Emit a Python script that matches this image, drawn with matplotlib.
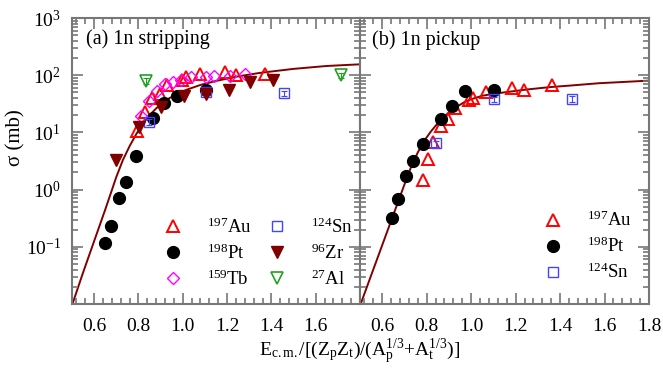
import matplotlib
matplotlib.use("Agg")
import matplotlib.pyplot as plt
from matplotlib.ticker import FixedLocator, FixedFormatter, MultipleLocator, LogLocator, NullFormatter

plt.rcParams['font.family'] = ['Liberation Serif', 'DejaVu Serif']
plt.rcParams['mathtext.fontset'] = 'custom'
plt.rcParams['mathtext.rm'] = 'Liberation Serif'
plt.rcParams['mathtext.it'] = 'Liberation Serif:italic'
plt.rcParams['mathtext.bf'] = 'Liberation Serif:bold'

# ---------------- data: (a) 1n stripping ----------------
a_au_x = [0.792, 0.828, 0.863, 0.898, 0.929, 0.997, 1.016, 1.076, 1.192, 1.242, 1.371]
a_au_y = [10.6, 22.7, 39.9, 46.9, 67.4, 84, 93, 105, 112, 100, 105]
a_pt_x = [0.647, 0.678, 0.712, 0.742, 0.790, 0.866, 0.915, 0.974, 1.106]
a_pt_y = [0.118, 0.231, 0.72, 1.37, 3.87, 17.6, 33, 43.3, 55]
a_tb_x = [0.812, 0.848, 0.882, 0.918, 0.956, 0.993, 1.039, 1.103, 1.139, 1.211, 1.279]
a_tb_y = [19.4, 35.4, 53, 70, 77, 82, 93, 93, 97, 97, 105]
a_sn_x = [0.846, 1.106, 1.459]
a_sn_y = [15.4, 51.5, 48]
a_sn_err = [1.8, 6.0, 5.5]
a_zr_x = [0.700, 0.801, 0.903, 1.005, 1.106, 1.207, 1.305, 1.407]
a_zr_y = [3.29, 12.6, 27.5, 43.8, 46.3, 55, 77, 82]
a_al_x = [0.835, 1.715]
a_al_y = [80, 100]
a_al_err = [9, 11]
a_fit_x = [0.502, 0.55, 0.60, 0.65, 0.70, 0.73, 0.76, 0.79, 0.82, 0.85, 0.88, 0.91, 0.94,
           0.98, 1.02, 1.08, 1.15, 1.25, 1.35, 1.50, 1.65, 1.80]
a_fit_y = [0.0100, 0.0355, 0.126, 0.447, 1.66, 3.31, 5.75, 9.33, 14.1, 20.0, 26.3, 33.1, 39.8,
           47.9, 56.2, 67.6, 79.4, 95.5, 110, 129, 145, 155]

# ---------------- data: (b) 1n pickup ----------------
b_au_x = [0.785, 0.806, 0.828, 0.863, 0.897, 0.929, 0.992, 1.008, 1.068, 1.185, 1.238, 1.365]
b_au_y = [1.47, 3.39, 6.9, 12.8, 17.3, 26.4, 36.8, 40, 49.9, 59, 56, 67.4]
b_pt_x = [0.645, 0.672, 0.708, 0.740, 0.785, 0.863, 0.912, 0.974, 1.103]
b_pt_y = [0.323, 0.676, 1.73, 3.2, 6.2, 16.9, 29, 52, 54.5]
b_sn_x = [0.841, 1.103, 1.455]
b_sn_y = [6.4, 37.9, 38.4]
b_sn_err = [0.8, 4.4, 4.5]
b_fit_x = [0.503, 0.55, 0.60, 0.65, 0.70, 0.73, 0.76, 0.79, 0.82, 0.85, 0.88, 0.91, 0.94, 0.97,
           1.00, 1.05, 1.10, 1.17, 1.25, 1.35, 1.45, 1.575, 1.70, 1.80]
b_fit_y = [0.0100, 0.0316, 0.107, 0.363, 1.23, 2.51, 4.47, 7.24, 10.5, 14.5, 19.1, 24.0, 28.8, 33.9,
           38.0, 43.7, 47.3, 51.3, 56.2, 61.7, 66.1, 72.4, 76.7, 80.4]

xt_left = [0.6, 0.8, 1.0, 1.2, 1.4, 1.6]
xt_right = [0.6, 0.8, 1.0, 1.2, 1.4, 1.6, 1.8]
yt = [1e-2, 1e-1, 1e0, 1e1, 1e2, 1e3]
yt_labels = ['', '10$^{\\mathregular{-1}}$', '10$^{\\mathregular{0}}$', '10$^{\\mathregular{1}}$',
             '10$^{\\mathregular{2}}$', '10$^{\\mathregular{3}}$']

RED = '#ff0000'
MAG = '#ff00ff'
BLUE = '#4444ff'
DRED = '#800000'
GRN = '#22a022'
SPINE = '#777777'

fig = plt.figure(figsize=(6.63, 3.68), dpi=100)
axL = fig.add_axes([72/663, 64/368, 288/663, 286/368])
axR = fig.add_axes([360/663, 64/368, 289/663, 286/368])

tri = dict(marker='^', mfc='none', mec=RED, mew=1.4, ms=8, ls='none')
circ = dict(marker='o', mfc='black', mec='black', ms=8.5, ls='none')
dia = dict(marker='D', mfc='none', mec=MAG, mew=1.0, ms=6.5, ls='none')
sq = dict(marker='s', mfc='none', mec=BLUE, mew=1.0, ms=7, ls='none')
dtri = dict(marker='v', mfc=DRED, mec=DRED, ms=8.5, ls='none')
gtri = dict(marker='v', mfc='none', mec=GRN, mew=1.2, ms=8, ls='none')

axL.plot(a_fit_x, a_fit_y, color=DRED, lw=1.4, zorder=1)
h_au, = axL.plot(a_au_x, a_au_y, **tri)
h_pt, = axL.plot(a_pt_x, a_pt_y, **circ)
h_tb, = axL.plot(a_tb_x, a_tb_y, **dia)
axL.errorbar(a_sn_x, a_sn_y, yerr=a_sn_err, fmt='none', ecolor=BLUE, elinewidth=0.8, capsize=2.5, capthick=0.8)
h_sn, = axL.plot(a_sn_x, a_sn_y, **sq)
h_zr, = axL.plot(a_zr_x, a_zr_y, **dtri)
axL.errorbar(a_al_x, a_al_y, yerr=a_al_err, fmt='none', ecolor=GRN, elinewidth=0.8, capsize=2.5, capthick=0.8)
h_al, = axL.plot(a_al_x, a_al_y, **gtri)

FS_LEG = 13.5
axL.legend([h_au, h_pt, h_tb, h_sn, h_zr, h_al],
           ['$^{197}$Au', '$^{198}$Pt', '$^{159}$Tb', '$^{124}$Sn', '$^{96}$Zr', '$^{27}$Al'],
           ncol=2, frameon=False, fontsize=FS_LEG, handlelength=1.0, handletextpad=1.35,
           columnspacing=0.8, labelspacing=0.35, loc='lower left',
           bbox_to_anchor=(0.291, 0.027), borderaxespad=0)

axR.plot(b_fit_x, b_fit_y, color=DRED, lw=1.4, zorder=1)
g_au, = axR.plot(b_au_x, b_au_y, **tri)
g_pt, = axR.plot(b_pt_x, b_pt_y, **circ)
axR.errorbar(b_sn_x, b_sn_y, yerr=b_sn_err, fmt='none', ecolor=BLUE, elinewidth=0.8, capsize=2.5, capthick=0.8)
g_sn, = axR.plot(b_sn_x, b_sn_y, **sq)
axR.legend([g_au, g_pt, g_sn], ['$^{197}$Au', '$^{198}$Pt', '$^{124}$Sn'],
           frameon=False, fontsize=FS_LEG, handlelength=1.0, handletextpad=1.35,
           labelspacing=0.35, loc='lower left', bbox_to_anchor=(0.608, 0.05), borderaxespad=0)

for ax, xt in ((axL, xt_left), (axR, xt_right)):
    ax.set_yscale('log')
    ax.set_xlim(0.5, 1.8)
    ax.set_ylim(1e-2, 1e3)
    ax.xaxis.set_major_locator(FixedLocator(xt))
    ax.xaxis.set_major_formatter(FixedFormatter(['%.1f' % v for v in xt]))
    ax.xaxis.set_minor_locator(MultipleLocator(0.04))
    ax.yaxis.set_major_locator(FixedLocator(yt))
    ax.yaxis.set_minor_locator(LogLocator(base=10, subs=range(2, 10)))
    ax.yaxis.set_minor_formatter(NullFormatter())
    ax.tick_params(which='both', direction='in', top=True, right=True, color=SPINE, width=1.2,
                   labelsize=14)
    ax.tick_params(axis='x', which='both', pad=10)
    ax.tick_params(axis='y', which='both', pad=8)
    ax.tick_params(which='major', length=8)
    ax.tick_params(which='minor', length=4)
    for s in ax.spines.values():
        s.set_color(SPINE)
        s.set_linewidth(1.5)

axL.yaxis.set_major_formatter(FixedFormatter(yt_labels))
axR.yaxis.set_major_formatter(FixedFormatter([''] * len(yt)))

axL.text(0.048, 0.909, '(a) 1n stripping', transform=axL.transAxes, fontsize=14.5)
axR.text(0.04, 0.905, '(b) 1n pickup', transform=axR.transAxes, fontsize=14.5)

fig.text(0.024, 1 - 138/368, '\u03c3 (mb)', rotation=90, fontsize=15, ha='center', va='center')
fig.text(360/663, 1 - 352/368,
         'E$_{\\mathregular{c.m.}}$/[(Z$_{\\mathregular{p}}$Z$_{\\mathregular{t}}$)/(A$_{\\mathregular{p}}^{\\mathregular{1/3}}$+A$_{\\mathregular{t}}^{\\mathregular{1/3}}$)]',
         fontsize=14, ha='center', va='center')

fig.savefig('out.png', dpi=100)
